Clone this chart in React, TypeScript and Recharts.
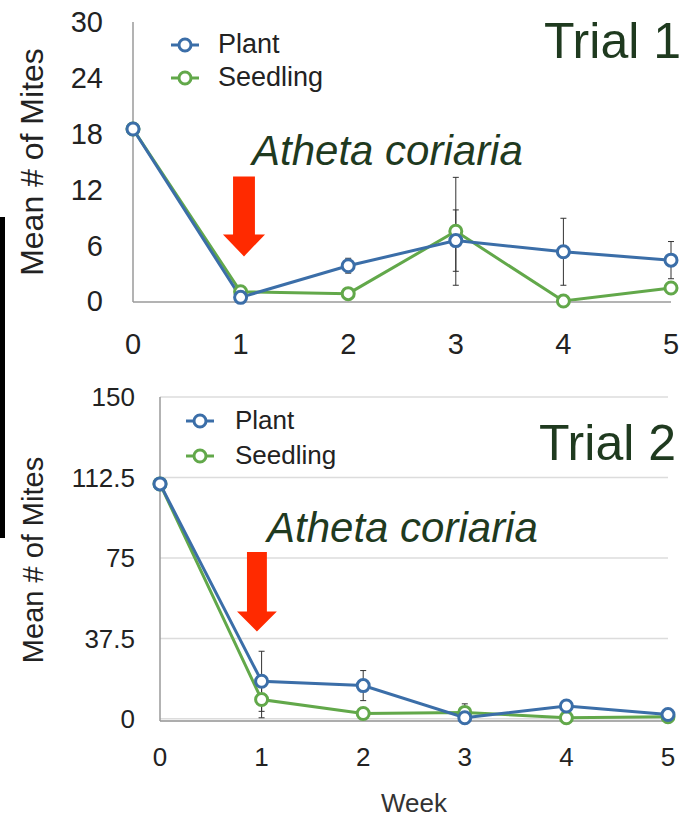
import React from 'react';
import { LineChart, Line, XAxis, YAxis, CartesianGrid, ErrorBar, Legend, ReferenceArea } from 'recharts';

const weeks = [0, 1, 2, 3, 4, 5];
const seriesNames = ['Plant', 'Seedling'];
const trial1Plant = [18.5, 0.4, 3.8, 6.5, 5.3, 4.4];
const trial1PlantErr = [0, 0.5, 0.8, 3.3, 3.6, 2.0];
const trial1Seedling = [18.5, 1.0, 0.8, 7.5, 0, 1.4];
const trial1SeedlingErr = [0, 0.3, 0.3, 5.8, 0, 0.5];
const trial2Plant = [109.5, 17.5, 15.5, 0.5, 6, 2];
const trial2PlantErr = [0, 14, 7, 0, 2.5, 1];
const trial2Seedling = [109.5, 9, 2.5, 3, 0.5, 1];
const trial2SeedlingErr = [0, 8.5, 1, 4, 0.5, 0.5];
const trial1Ticks = [0, 6, 12, 18, 24, 30];
const trial2Ticks = [0, 37.5, 75, 112.5, 150];

const BLUE = '#3b6ea8';
const GREEN = '#62a84a';
const RED = '#ff2a00';
const DARKGREEN = '#1f3a1f';
const FONT = '"Liberation Sans", Arial, Helvetica, sans-serif';

const build = (p: number[], pe: number[], s: number[], se: number[]) =>
  weeks.map((w, i) => ({ week: w, plant: p[i], plantErr: pe[i], seedling: s[i], seedlingErr: se[i] }));

const data1 = build(trial1Plant, trial1PlantErr, trial1Seedling, trial1SeedlingErr);
const data2 = build(trial2Plant, trial2PlantErr, trial2Seedling, trial2SeedlingErr);

const makeArrow = (shaftRatio: number, headRatio: number) => (props: any) => {
  const { x, y, width: w, height: h } = props;
  const cx = x + w / 2;
  const sw = w * shaftRatio;
  const hh = h * headRatio;
  const pts = [
    [cx - sw / 2, y],
    [cx + sw / 2, y],
    [cx + sw / 2, y + h - hh],
    [x + w, y + h - hh],
    [cx, y + h],
    [x, y + h - hh],
    [cx - sw / 2, y + h - hh],
  ]
    .map((q) => q.join(','))
    .join(' ');
  return <polygon points={pts} fill={RED} />;
};

const makeLegend = (fontSize: number, rowH: number, gap: number) => (props: any) => {
  const payload = (props.payload || []).slice().sort((a: any, b: any) => seriesNames.indexOf(a.value) - seriesNames.indexOf(b.value));
  return (
    <div style={{ fontFamily: FONT, fontSize, color: '#222' }}>
      {payload.map((e: any) => (
        <div key={e.value} style={{ display: 'flex', alignItems: 'center', height: rowH }}>
          <svg width={28} height={18} style={{ marginRight: gap }}>
            <line x1={0} y1={9} x2={28} y2={9} stroke={e.color} strokeWidth={3} />
            <circle cx={14} cy={9} r={6} fill="#fff" stroke={e.color} strokeWidth={3} />
          </svg>
          <span>{e.value}</span>
        </div>
      ))}
    </div>
  );
};

const tickStyle = (size: number) => ({ fontFamily: FONT, fontSize: size, fill: '#222' });

export default function App() {
  return (
    <div style={{ position: 'absolute', left: 0, top: 0, width: 684, height: 818, background: '#fff', overflow: 'hidden' }}>
      <div style={{ position: 'absolute', left: 0, top: 0 }}>
        <LineChart width={684} height={360} data={data1} margin={{ top: 22, right: 13, bottom: 18, left: 63 }}>
          <XAxis
            dataKey="week"
            type="number"
            domain={[0, 5]}
            ticks={weeks}
            tickLine={false}
            tickSize={0}
            tickMargin={31}
            height={40}
            axisLine={{ stroke: '#9a9a9a', strokeWidth: 1.5 }}
            tick={tickStyle(29)}
          />
          <YAxis
            type="number"
            domain={[0, 30]}
            ticks={trial1Ticks}
            width={70}
            tickLine={false}
            tickSize={0}
            tickMargin={30}
            axisLine={{ stroke: '#9a9a9a', strokeWidth: 1.5 }}
            tick={tickStyle(29)}
          />
          <ReferenceArea x1={0.836} x2={1.227} y1={4.8} y2={13.4} shape={makeArrow(0.52, 0.275)} />
          <Line name="Seedling" dataKey="seedling" stroke={GREEN} strokeWidth={3} isAnimationActive={false}
            dot={{ r: 6, fill: '#fff', stroke: GREEN, strokeWidth: 3 }}>
            <ErrorBar dataKey="seedlingErr" direction="y" width={3} stroke="#333" strokeWidth={1} />
          </Line>
          <Line name="Plant" dataKey="plant" stroke={BLUE} strokeWidth={3} isAnimationActive={false}
            dot={{ r: 6, fill: '#fff', stroke: BLUE, strokeWidth: 3 }}>
            <ErrorBar dataKey="plantErr" direction="y" width={3} stroke="#333" strokeWidth={1} />
          </Line>
          <Legend
            layout="vertical"
            verticalAlign="middle"
            align="center"
            content={makeLegend(27, 33, 19)}
            wrapperStyle={{ left: 171, top: 28, width: 200 }}
          />
        </LineChart>
      </div>

      <div style={{ position: 'absolute', left: 0, top: 370 }}>
        <LineChart width={684} height={448} data={data2} margin={{ top: 27, right: 16, bottom: 57, left: 90 }}>
          <CartesianGrid vertical={false} stroke="#dcdcdc" strokeWidth={1.5} />
          <XAxis
            dataKey="week"
            type="number"
            domain={[0, 5]}
            ticks={weeks}
            tickLine={false}
            tickSize={0}
            tickMargin={27}
            height={40}
            axisLine={{ stroke: '#9a9a9a', strokeWidth: 1.5 }}
            tick={tickStyle(26)}
          />
          <YAxis
            type="number"
            domain={[0, 150]}
            ticks={trial2Ticks}
            width={70}
            tickLine={false}
            tickSize={0}
            tickMargin={25}
            axisLine={{ stroke: '#9a9a9a', strokeWidth: 1.5 }}
            tick={tickStyle(26)}
          />
          <ReferenceArea x1={0.758} x2={1.15} y1={40.7} y2={77.8} shape={makeArrow(0.5, 0.25)} />
          <Line name="Seedling" dataKey="seedling" stroke={GREEN} strokeWidth={3} isAnimationActive={false}
            dot={{ r: 6, fill: '#fff', stroke: GREEN, strokeWidth: 3 }}>
            <ErrorBar dataKey="seedlingErr" direction="y" width={3} stroke="#333" strokeWidth={1} />
          </Line>
          <Line name="Plant" dataKey="plant" stroke={BLUE} strokeWidth={3} isAnimationActive={false}
            dot={{ r: 6, fill: '#fff', stroke: BLUE, strokeWidth: 3 }}>
            <ErrorBar dataKey="plantErr" direction="y" width={3} stroke="#333" strokeWidth={1} />
          </Line>
          <Legend
            layout="vertical"
            verticalAlign="middle"
            align="center"
            content={makeLegend(26, 35, 21)}
            wrapperStyle={{ left: 186, top: 33, width: 200 }}
          />
        </LineChart>
      </div>

      <svg width={684} height={818} style={{ position: 'absolute', left: 0, top: 0, pointerEvents: 'none' }}>
        <rect x={0} y={217} width={5} height={321} fill="#000" />
        <text transform="translate(43,162) rotate(-90)" textAnchor="middle" fontFamily={FONT} fontSize={32} fill="#222">
          Mean # of Mites
        </text>
        <text transform="translate(43,560) rotate(-90)" textAnchor="middle" fontFamily={FONT} fontSize={29} fill="#222">
          Mean # of Mites
        </text>
        <text x={681} y={58} textAnchor="end" fontFamily={FONT} fontSize={50} fill={DARKGREEN}>Trial 1</text>
        <text x={676} y={460} textAnchor="end" fontFamily={FONT} fontSize={50} fill={DARKGREEN}>Trial 2</text>
        <text x={252} y={165} fontFamily={FONT} fontStyle="italic" fontSize={42} fill={DARKGREEN}>Atheta coriaria</text>
        <text x={267} y={542} fontFamily={FONT} fontStyle="italic" fontSize={42} fill={DARKGREEN}>Atheta coriaria</text>
        <text x={414} y={812} textAnchor="middle" fontFamily={FONT} fontSize={26} fill="#333">Week</text>
      </svg>
    </div>
  );
}
